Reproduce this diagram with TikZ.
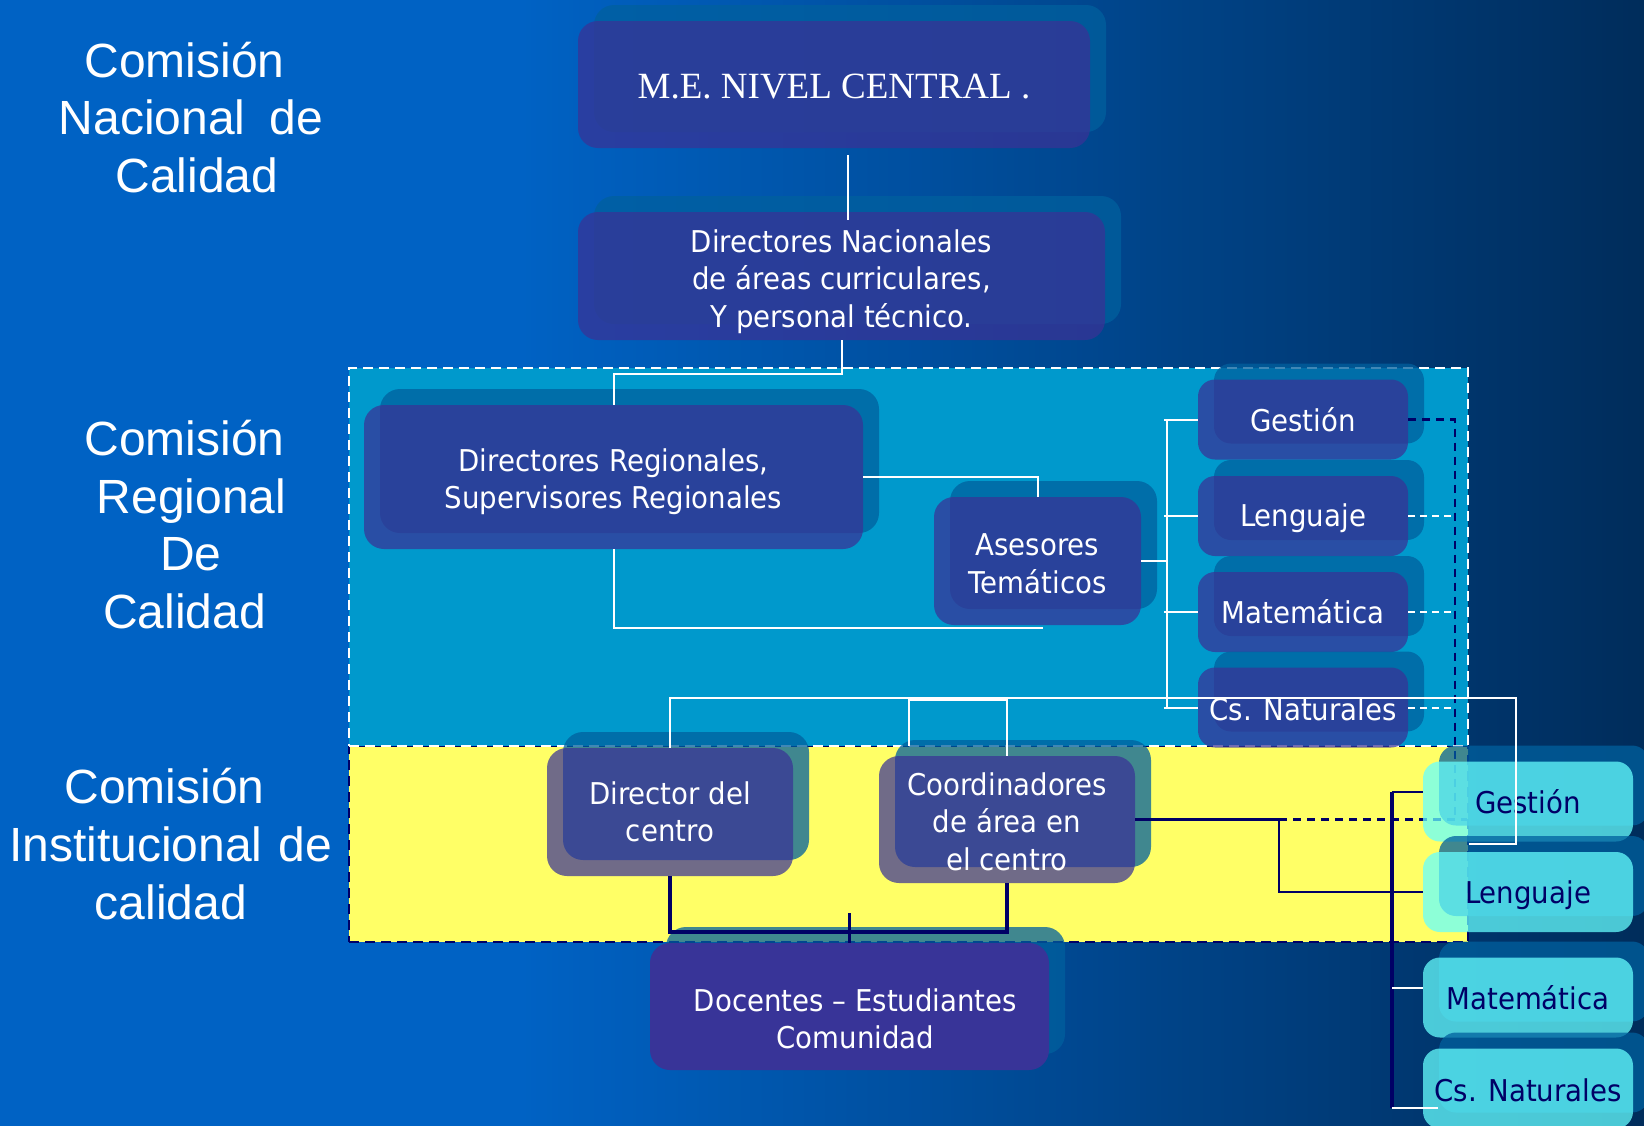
\documentclass[tikz,border=0pt]{standalone}
\usepackage{fontspec}
\newfontfamily\tah{DejaVu Sans}[FakeStretch=0.92]
\newfontfamily\ari{Liberation Sans}
\newfontfamily\tms{Liberation Serif}
\newcommand\boxfont{\tah\fontsize{30}{37.5}\selectfont}
\newcommand\labfont{\ari\fontsize{48}{57.6}\selectfont}
\definecolor{bgA}{RGB}{0,98,196}
\definecolor{bgB}{RGB}{0,44,90}
\definecolor{regC}{RGB}{0,153,204}
\definecolor{yelC}{RGB}{255,255,102}
\definecolor{shC}{RGB}{0,96,158}
\definecolor{frC}{RGB}{58,50,150}
\definecolor{doC}{RGB}{56,52,152}
\definecolor{cyC}{RGB}{102,255,255}
\definecolor{navy}{RGB}{0,0,102}
\newcommand\obox[8]{%
  \node[#1, minimum width=#6pt, minimum height=#7pt] (#3-s) at (#4+16,#5-16) {};
  \node[#2, minimum width=#6pt, minimum height=#7pt] (#3) at (#4,#5) {#8};}
\newcommand\up[1]{\rule{0pt}{#1pt}}
\begin{document}
\begin{tikzpicture}[x=1pt,y=-1pt,
  shbox/.style={rounded corners=20pt, fill=shC, fill opacity=0.75, inner sep=0pt},
  frbox/.style={rounded corners=20pt, fill=frC, fill opacity=0.72, text opacity=1, text=white, align=center, inner sep=0pt, font=\boxfont},
  subsh/.style={shbox, rounded corners=17pt},
  subfr/.style={frbox, rounded corners=17pt},
  cyfr/.style={frbox, rounded corners=17pt, fill=cyC, fill opacity=0.74, text=navy},
  dofr/.style={frbox, fill=doC, fill opacity=1},
  lab/.style={text=white, font=\labfont, align=center, text width=340pt, inner sep=0pt},
  regbox/.style={fill=regC, draw=white, line width=2pt, dash pattern=on 10pt off 6pt, inner sep=0pt},
  yelbox/.style={fill=yelC, draw=navy, line width=2pt, dash pattern=on 10pt off 6pt, inner sep=0pt},
  wl/.style={draw=white, line width=2pt},
  wdash/.style={draw=white, line width=2pt, dash pattern=on 7pt off 5pt},
  nl/.style={draw=navy, line width=2.5pt},
  ndash/.style={draw=navy, line width=2.5pt, dash pattern=on 8pt off 6pt},
  nthick/.style={draw=navy, line width=4.5pt}
]
\useasboundingbox (0,0) rectangle (1644,1125);
% background
\fill[bgA] (-10,-10) rectangle (1654,1135);
\shade[left color=bgA, right color=bgB] (520,-10) rectangle (1654,1135);
% zones
\node[yelbox, minimum width=1119pt, minimum height=196pt] (inst) at (908.5,844) {};
\node[regbox, minimum width=1119pt, minimum height=378pt] (reg) at (908.5,557) {};
% left labels
\node[lab] (lnac) at (191,117.5) {\hspace*{-13pt}Comisión\\Nacional\ \hspace{8.5pt}de\\\hspace*{12pt}Calidad};
\node[lab] (lreg) at (188,524.5) {\hspace*{-7pt}Comisión\\\hspace*{7pt}Regional\\\hspace*{6pt}De\\Calidad\hspace*{7pt}};
\node[lab] (lins) at (170,844) {\hspace*{-11pt}Comisión\\\hspace*{1pt}Institucional de\\\hspace*{2pt}calidad};
% dark boxes
\obox{shbox}{frbox}{nc}{834}{84.5}{512}{127}{\tms\fontsize{37}{44}\selectfont\up{28.5}M.E. NIVEL CENTRAL .}
\obox{shbox}{frbox}{dn}{841.5}{276}{527}{128}{\up{34}Directores Nacionales\\de áreas curriculares,\\Y personal técnico.}
\obox{shbox}{frbox}{dr}{613.5}{477}{499}{144}{\up{32}Directores Regionales,\\Supervisores Regionales}
\obox{shbox}{frbox}{as}{1037.5}{561}{207}{128}{\up{27}Asesores\\Temáticos}
\obox{subsh}{subfr}{g1}{1303}{419.5}{210}{80}{Gestión}
\obox{subsh}{subfr}{l1}{1303}{516}{210}{80}{\up{27}Lenguaje}
\obox{subsh}{subfr}{m1}{1303}{612}{210}{80}{Matemática}
\obox{subsh}{subfr}{c1}{1303}{707.5}{210}{80}{\up{27}Cs. Naturales}
\obox{shbox}{frbox}{dc}{670}{812}{246}{128}{Director del\\centro}
\obox{shbox}{frbox}{co}{1007}{819.5}{256}{127}{\up{27}Coordinadores\\de área en\\el centro}
\node[shbox, minimum width=399pt, minimum height=127pt] (do-s) at (865.5,990.5) {};
\node[dofr, minimum width=399pt, minimum height=127pt] (do) at (849.5,1006.5) {\up{47}\hspace*{12pt}Docentes – Estudiantes\\\hspace*{12pt}Comunidad};
% connectors
\draw[wl] ([xshift=14pt,yshift=-7pt]nc.south) -- ([xshift=6.5pt,yshift=-8pt]dn.north);
\draw[wl] (dn.south) -- ++(0,34) -| (dr.north);
\draw[wl] (dr.east) -| (as.north);
\draw[wl] (dr.south) |- ([yshift=-3pt,xshift=5pt]as.south);
\draw[wl] (as.east) -- ++(26,0) coordinate (asb);
\coordinate (asb2) at ([xshift=-3pt]asb);
\draw[wl] (asb |- g1.west) -- (asb |- c1.west);
\foreach \s in {g1,l1,m1,c1} \draw[wl] (asb2 |- \s.west) -- (\s.west);
\draw[nthick] (dc.south) -- ++(0,56) -| (co.south);
\draw[nl] (do.north) -- ++(0,-30);
\draw[nl] (co.east) -- ++(144,0) coordinate (cj);
\draw[ndash] (cj) -- ++(188,0);
\draw[ndash] (g1.east) -- ++(47,0) coordinate (rj) -- (rj |- cj);
\foreach \s in {l1,m1,c1} \draw[wdash] (\s.east) -- (rj |- \s.east);
% cyan boxes
\obox{subsh}{cyfr}{g2}{1528}{801.5}{210}{80}{Gestión}
\obox{subsh}{cyfr}{l2}{1528}{892}{210}{80}{\up{29}Lenguaje}
\obox{subsh}{cyfr}{m2}{1528}{997.5}{210}{80}{Matemática}
\obox{subsh}{cyfr}{c2}{1528}{1088.5}{210}{80}{\up{27}Cs. Naturales}
% top-layer connectors
\draw[nl] (cj) |- (l2.west);
\draw[wl] (dc.north) -- ++(0,-50) -- ++(846,0) -- ++(0,146) -- ++(-47,0);
\draw[wl] (co.north) -- ++(0,-56) -- ++(-98,0) -- ++(0,46);
\coordinate (bt) at ([xshift=-31pt,yshift=9.5pt]g2.west);
\coordinate (bb) at ([xshift=-31pt,yshift=-19.5pt]c2.west);
\draw[nthick] (bt) -- (bb);
\draw[nl] (bt) -- ([yshift=9.5pt]g2.west);
\draw[wl] ([yshift=9.5pt]m2.west) -- ++(-31,0);
\draw[wl] (bb) -- ++(46,0);
\end{tikzpicture}
\end{document}
